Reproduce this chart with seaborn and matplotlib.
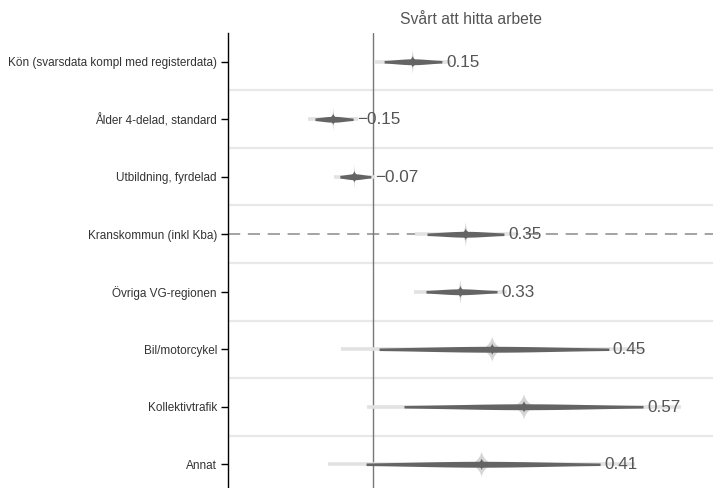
import numpy as np
import matplotlib
matplotlib.use("Agg")
import matplotlib.pyplot as plt
import seaborn as sns
import pandas as pd

# ---- data ----
categories = [
    "Kön (svarsdata kompl med registerdata)",
    "Ålder 4-delad, standard",
    "Utbildning, fyrdelad",
    "Kranskommun (inkl Kba)",
    "Övriga VG-regionen",
    "Bil/motorcykel",
    "Kollektivtrafik",
    "Annat",
]
estimates = [0.15, -0.15, -0.07, 0.35, 0.33, 0.45, 0.57, 0.41]
ci95_low = [0.042, -0.219, -0.125, 0.204, 0.200, 0.023, 0.117, -0.026]
ci95_high = [0.260, -0.075, -0.008, 0.494, 0.468, 0.890, 1.019, 0.857]
value_labels = ["0.15", "\u22120.15", "\u22120.07", "0.35", "0.33", "0.45", "0.57", "0.41"]
reference_row = "Kranskommun (inkl Kba)"
title = "Svårt att hitta arbete"

df = pd.DataFrame({
    "category": categories,
    "est": estimates,
    "lo": ci95_low,
    "hi": ci95_high,
    "label": value_labels,
})
df["row"] = np.arange(len(df))
df["se"] = (df["hi"] - df["lo"]) / (2 * 1.96)
df["lo99"] = df["est"] - 2.576 * df["se"]
df["hi99"] = df["est"] + 2.576 * df["se"]

# ---- style ----
sns.set_theme(style="white")
plt.rcParams["font.family"] = ["Liberation Sans", "DejaVu Sans"]

W, H = 713, 488
fig = plt.figure(figsize=(W / 100, H / 100), dpi=100)
ax = fig.add_axes([228 / W, -5 / H, 485 / W, 460 / H])

xmin, xmax = -0.547, 1.283
ax.set_xlim(xmin, xmax)
ax.set_ylim(len(df) - 0.5, -0.5)

px_x = (xmax - xmin) / 485.0       # data units per pixel in x
px_y = len(df) / 460.0             # data units per pixel in y

# separators between rows
for k in range(len(df) - 1):
    ax.axhline(k + 0.5, color="#e8e8e8", lw=1.6, zorder=0)

# reference dashed line
ref_y = df.loc[df["category"] == reference_row, "row"].iloc[0]
ax.axhline(ref_y, color="#8a8a8a", lw=1.1, dashes=(8, 5), zorder=1)

# zero line
ax.axvline(0, color="#777777", lw=1.0, zorder=1.2)

dark = "#646464"
light = "#e2e2e2"
t = np.linspace(0, 2 * np.pi, 240)

for _, r in df.iterrows():
    y = r["row"]
    # 99% extension
    ax.plot([r["lo99"], r["hi99"]], [y, y], color=light, lw=2.6,
            solid_capstyle="butt", zorder=2)
    # center star (light)
    sw = max(0.2 * r["se"], 2.0 * px_x)
    sh = 13 * px_y
    ax.fill(r["est"] + sw * np.cos(t) ** 3, y + sh * np.sin(t) ** 3,
            color="#d6d6d6", lw=0, zorder=2.2)
    # 95% tapered eye
    xs = np.linspace(r["lo"], r["hi"], 300)
    z = (xs - r["est"]) / r["se"]
    half = (0.85 + 2.1 * np.exp(-0.5 * (z / 1.1) ** 2)) * px_y
    ax.fill_between(xs, y - half, y + half, color=dark, lw=0, zorder=3)
    # dark center star
    dw = 6 * px_x
    dh = 6 * px_y
    ax.fill(r["est"] + dw * np.cos(t) ** 3, y + dh * np.sin(t) ** 3,
            color=dark, lw=0, zorder=3.5)
    # value label
    ax.text(r["hi"] + 4 * px_x, y + 0.01, r["label"], fontsize=12.3,
            color="#555555", va="center", ha="left", zorder=4)

sns.scatterplot(data=df, x="est", y="row", marker="D", s=14, color=dark,
                edgecolor=dark, linewidth=0, ax=ax, zorder=5, legend=False)

# axes styling
ax.set_yticks(df["row"])
ax.set_yticklabels(df["category"], fontsize=8.5, color="#333333")
ax.set_xticks([])
ax.set_xlabel("")
ax.set_ylabel("")
ax.tick_params(axis="y", which="both", left=True, length=5, width=1,
               color="black", pad=3)
for s in ["top", "right", "bottom"]:
    ax.spines[s].set_visible(False)
ax.spines["left"].set_color("black")
ax.spines["left"].set_linewidth(1.0)

fig.text((228 + 485 / 2) / W, 1 - 19 / H, title, ha="center", va="center",
         fontsize=11.3, color="#555555")

fig.savefig("out.png", dpi=100)
